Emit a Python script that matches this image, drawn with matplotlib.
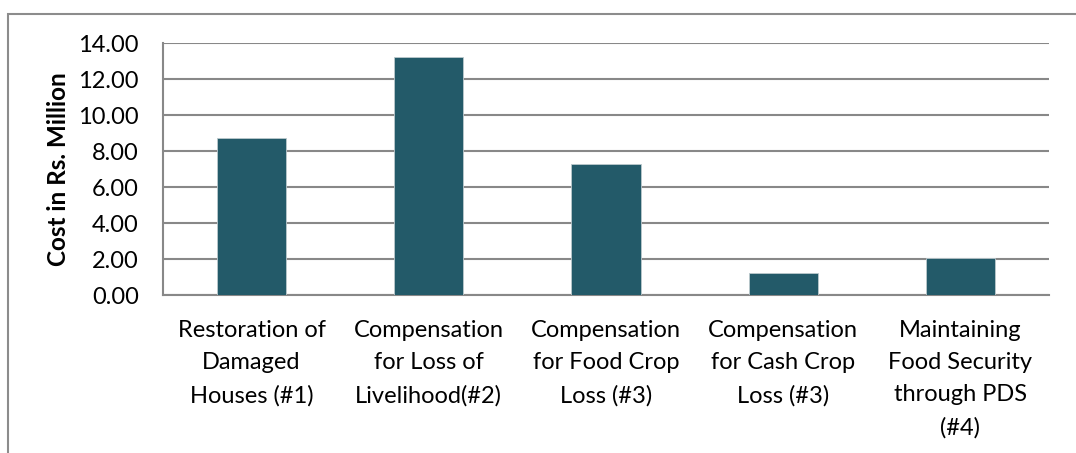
import matplotlib.pyplot as plt
from matplotlib.patches import Rectangle

categories = [
    "Restoration of\nDamaged\nHouses (#1)",
    "Compensation\nfor Loss of\nLivelihood(#2)",
    "Compensation\nfor Food Crop\nLoss (#3)",
    "Compensation\nfor Cash Crop\nLoss (#3)",
    "Maintaining\nFood Security\nthrough PDS\n(#4)",
]
costs = [8.72, 13.20, 7.26, 1.20, 2.04]
y_ticks = [0, 2, 4, 6, 8, 10, 12, 14]

BAR_COLOR = "#235a69"
GRID_COLOR = "#888888"

plt.rcParams["font.family"] = ["Lato", "DejaVu Sans"]

W, H = 1076, 453
fig = plt.figure(figsize=(W / 100, H / 100), dpi=100, facecolor="white")

# outer chart frame (cut off at right and bottom)
fig.patches.append(Rectangle((8 / W, -0.1), 1.2, 1 - 14 / H + 0.1, transform=fig.transFigure,
                             fill=False, edgecolor="#8c8c8c", linewidth=1.5))

ax = fig.add_axes([163 / W, 1 - 295 / H, (1049 - 163) / W, (295 - 43) / H])
x = range(len(categories))
ax.bar(x, costs, width=0.39, color=BAR_COLOR, edgecolor="#bcc9cd", linewidth=0.6, zorder=3)

ax.set_xlim(-0.5, len(categories) - 0.5)
ax.set_ylim(0, 14)
ax.set_yticks(y_ticks)
ax.set_yticklabels([f"{v:.2f}" for v in y_ticks], fontsize=17)
ax.set_xticks(list(x))
ax.set_xticklabels(categories, fontsize=17, linespacing=1.66, va="top")
ax.tick_params(axis="both", length=0, colors="black")
ax.tick_params(axis="x", pad=18)
ax.tick_params(axis="y", pad=17.5)

ax.yaxis.grid(True, color=GRID_COLOR, linewidth=1.5, zorder=0)
for side in ("top", "right"):
    ax.spines[side].set_visible(False)
for side in ("left", "bottom"):
    ax.spines[side].set_color(GRID_COLOR)
    ax.spines[side].set_linewidth(1.5)

ax.set_ylabel("Cost in Rs. Million", fontsize=17.5, fontweight="bold", labelpad=6)

fig.savefig("out.png", dpi=100, facecolor="white")
